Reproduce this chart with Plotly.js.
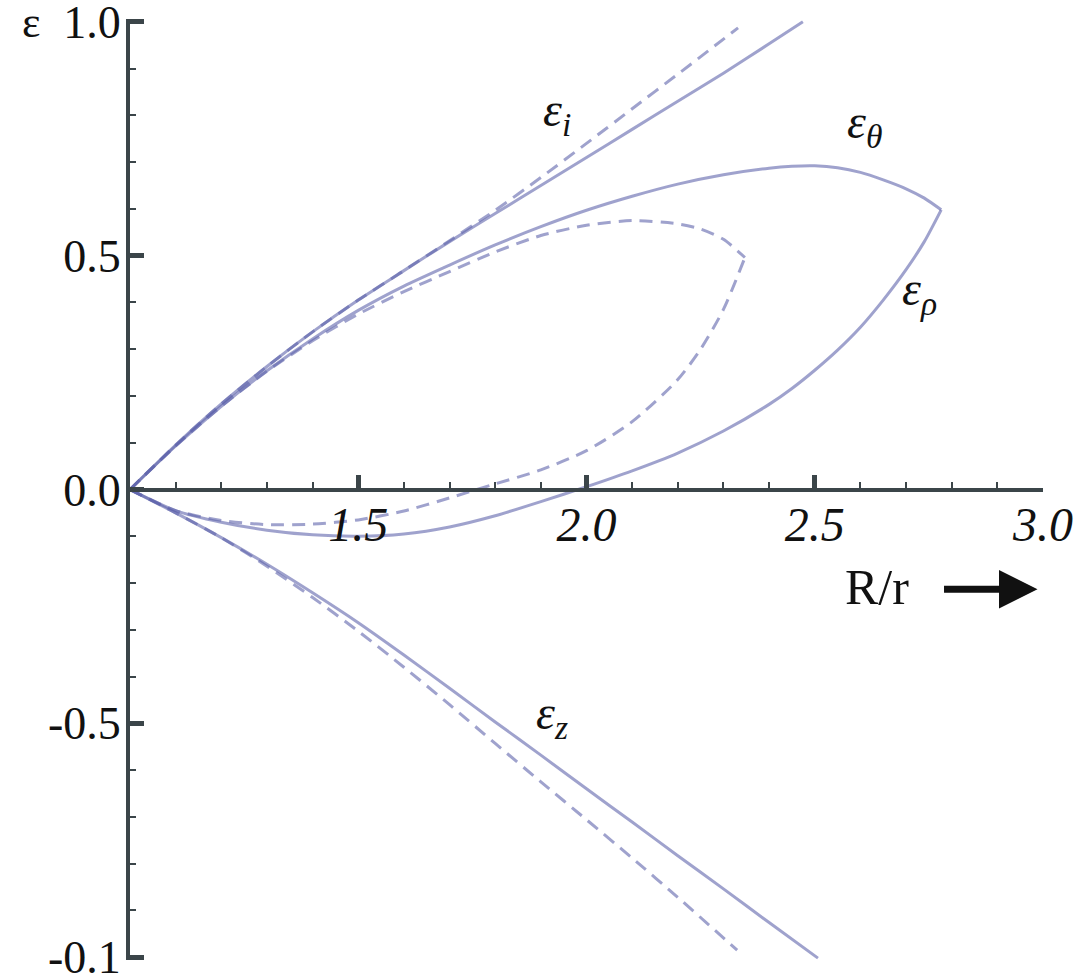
<!DOCTYPE html>
<html>
<head>
<meta charset="utf-8">
<script src="https://cdn.plot.ly/plotly-3.0.1.min.js"></script>
<style>html,body{margin:0;padding:0;background:#fff;}#chart{width:1079px;height:974px;}</style>
</head>
<body>
<div id="chart"></div>
<script>
// ---- data (x = R/r, y = strain) ----
// solid curves
const xSolid = [1.0, 1.1, 1.2, 1.3, 1.4, 1.5, 1.6, 1.7, 1.8, 1.9, 2.0, 2.1, 2.2, 2.3, 2.4, 2.45, 2.5, 2.55, 2.6, 2.65, 2.7, 2.74, 2.777];
const epsThetaSolid = [0, 0.093, 0.178, 0.254, 0.322, 0.383, 0.435, 0.48, 0.523, 0.562, 0.597, 0.627, 0.653, 0.673, 0.687, 0.691, 0.692, 0.688, 0.678, 0.662, 0.643, 0.623, 0.598];
const epsRhoSolid   = [0, -0.045, -0.07, -0.087, -0.097, -0.1, -0.095, -0.08, -0.056, -0.026, 0.006, 0.04, 0.078, 0.125, 0.182, 0.216, 0.255, 0.298, 0.347, 0.405, 0.47, 0.53, 0.598];
const xISolid = [1.0, 1.1, 1.2, 1.3, 1.4, 1.5, 1.6, 1.7, 1.8, 1.9, 2.0, 2.1, 2.2, 2.3, 2.4, 2.474];
const epsISolid = [0, 0.095, 0.183, 0.263, 0.337, 0.405, 0.468, 0.53, 0.59, 0.65, 0.71, 0.77, 0.83, 0.89, 0.953, 1.0];
const xZSolid = [1.0, 1.1, 1.2, 1.3, 1.4, 1.5, 1.6, 1.7, 1.8, 1.9, 2.0, 2.1, 2.2, 2.3, 2.4, 2.507];
const epsZSolid = [0, -0.05, -0.103, -0.16, -0.221, -0.285, -0.354, -0.425, -0.497, -0.568, -0.64, -0.711, -0.783, -0.854, -0.926, -1.002];
// dashed curves
const xDashed = [1.0, 1.1, 1.2, 1.3, 1.4, 1.5, 1.6, 1.7, 1.8, 1.9, 2.0, 2.1, 2.2, 2.25, 2.3, 2.347];
const epsThetaDashed = [0, 0.093, 0.178, 0.253, 0.318, 0.375, 0.423, 0.466, 0.508, 0.543, 0.565, 0.575, 0.568, 0.557, 0.535, 0.496];
const epsRhoDashed   = [0, -0.045, -0.066, -0.075, -0.074, -0.065, -0.046, -0.018, 0.012, 0.042, 0.083, 0.145, 0.235, 0.3, 0.385, 0.496];
const xIDashed = [1.0, 1.1, 1.2, 1.3, 1.4, 1.5, 1.6, 1.7, 1.8, 1.9, 2.0, 2.1, 2.2, 2.332];
const epsIDashed = [0, 0.095, 0.183, 0.263, 0.337, 0.405, 0.468, 0.532, 0.597, 0.667, 0.74, 0.814, 0.888, 0.987];
const xZDashed = [1.0, 1.1, 1.2, 1.3, 1.4, 1.5, 1.6, 1.7, 1.8, 1.9, 2.0, 2.1, 2.2, 2.33];
const epsZDashed = [0, -0.05, -0.103, -0.164, -0.231, -0.303, -0.38, -0.46, -0.543, -0.625, -0.706, -0.788, -0.872, -0.985];

const xTickVals = [1.5, 2.0, 2.5, 3.0];
const xTickText = ['1.5', '2.0', '2.5', '3.0'];
const yTickVals = [1.0, 0.5, 0.0, -0.5, -1.0];
const yTickText = ['1.0', '0.5', '0.0', '-0.5', '-0.1'];

const curveColor = 'rgba(95,100,172,0.6)';
const serif = 'Liberation Serif, Times New Roman, serif';

function tr(x, y, dashed) {
  return {x: x, y: y, type: 'scatter', mode: 'lines',
          line: {color: curveColor, width: 3, shape: 'spline', smoothing: 0.7,
                 dash: dashed ? '13px,8px' : 'solid'},
          hoverinfo: 'skip', showlegend: false};
}

const data = [
  tr(xISolid, epsISolid, false),
  tr(xSolid, epsThetaSolid, false),
  tr(xSolid, epsRhoSolid, false),
  tr(xZSolid, epsZSolid, false),
  tr(xIDashed, epsIDashed, true),
  tr(xDashed, epsThetaDashed, true),
  tr(xDashed, epsRhoDashed, true),
  tr(xZDashed, epsZDashed, true)
];

const axisColor = '#3b4549';
const layout = {
  width: 1079, height: 974,
  margin: {l: 130, r: 36, t: 19, b: 14},
  paper_bgcolor: '#fff', plot_bgcolor: '#fff',
  showlegend: false,
  xaxis: {
    range: [1.0, 3.0], showgrid: false, zeroline: false,
    anchor: 'free', position: 0.5,
    showline: true, linecolor: axisColor, linewidth: 4,
    ticks: 'inside', ticklen: 13, tickwidth: 5, tickcolor: axisColor,
    tickvals: xTickVals, ticktext: xTickText,
    tickfont: {family: serif, size: 48, color: '#111', style: 'italic'},
    ticklabelstandoff: -8, ticklabeloverflow: 'allow',
    minor: {dtick: 0.1, tick0: 1.0, ticks: 'inside', ticklen: 6, tickwidth: 2, tickcolor: axisColor, showgrid: false}
  },
  yaxis: {
    range: [-1.006, 1.006], showgrid: false, zeroline: false,
    showline: true, linecolor: axisColor, linewidth: 4,
    ticks: 'inside', ticklen: 14, tickwidth: 5, tickcolor: axisColor,
    tickvals: yTickVals, ticktext: yTickText,
    tickfont: {family: serif, size: 46, color: '#111'},
    ticklabelstandoff: -4, ticklabeloverflow: 'allow',
    minor: {dtick: 0.1, tick0: 0, ticks: 'inside', ticklen: 6, tickwidth: 2, tickcolor: axisColor, showgrid: false}
  },
  annotations: [
    {xref: 'paper', yref: 'paper', x: -0.12, y: 1.0, yanchor: 'bottom', yshift: -30, text: 'ε', showarrow: false,
     font: {family: serif, size: 44, color: '#111'}},
    {xref: 'paper', yref: 'paper', x: 0.855, y: 0.396, text: 'R/r', showarrow: false,
     font: {family: serif, size: 50, color: '#111'}},
    {xref: 'paper', yref: 'paper', x: 0.994, y: 0.394, ax: -95, ay: 0, text: '', showarrow: true,
     arrowhead: 2, arrowsize: 1.1, arrowwidth: 7, arrowcolor: '#111'},
    {x: 1.935, y: 0.805, text: 'ε<sub>i</sub>', showarrow: false,
     font: {family: serif, size: 48, color: '#111', style: 'italic'}},
    {x: 2.61, y: 0.78, text: 'ε<sub>θ</sub>', showarrow: false,
     font: {family: serif, size: 48, color: '#111', style: 'italic'}},
    {x: 2.73, y: 0.422, text: 'ε<sub>ρ</sub>', showarrow: false,
     font: {family: serif, size: 48, color: '#111', style: 'italic'}},
    {x: 1.925, y: -0.485, text: 'ε<sub>z</sub>', showarrow: false,
     font: {family: serif, size: 48, color: '#111', style: 'italic'}}
  ]
};

Plotly.newPlot('chart', data, layout, {staticPlot: true, displayModeBar: false});
</script>
</body>
</html>
